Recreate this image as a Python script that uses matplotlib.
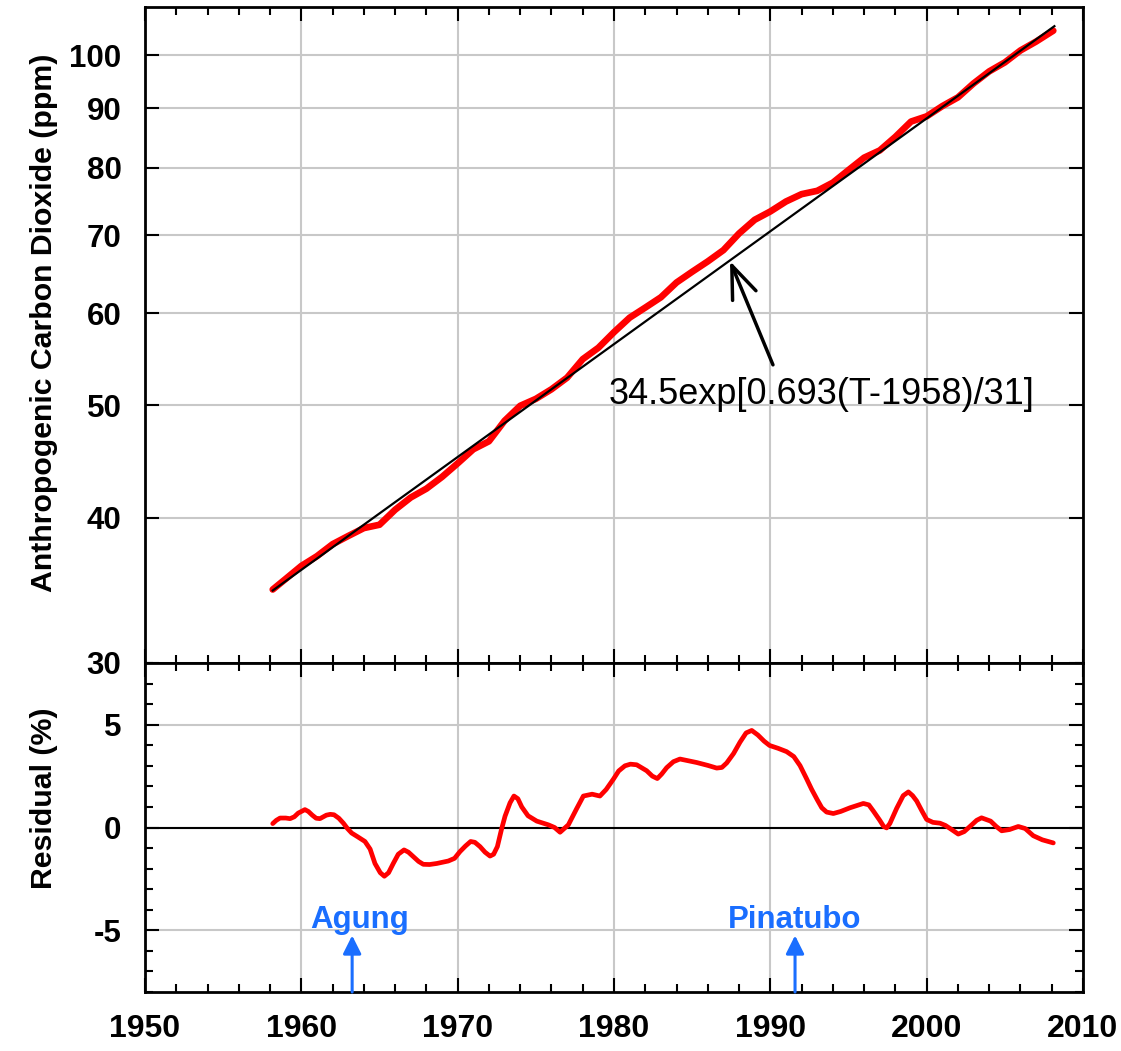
import matplotlib
matplotlib.use("Agg")
import matplotlib.pyplot as plt
import numpy as np
from matplotlib.ticker import FixedLocator, MultipleLocator, NullLocator

plt.rcParams['font.family'] = ['Liberation Sans', 'DejaVu Sans']

# ---- data ----
co2_years = [1958.17, 1959, 1960, 1961, 1962, 1963, 1964, 1965, 1966, 1967,
             1968, 1969, 1970, 1971, 1972, 1973, 1974, 1975, 1976, 1977,
             1978, 1979, 1980, 1981, 1982, 1983, 1984, 1985, 1986, 1987,
             1988, 1989, 1990, 1991, 1992, 1993, 1994, 1995, 1996, 1997,
             1998, 1999, 2000, 2001, 2002, 2003, 2004, 2005, 2006, 2007,
             2008, 2008.1]
co2_ppm = [34.70, 35.44, 36.36, 37.07, 37.96, 38.58, 39.19, 39.45, 40.64, 41.64,
           42.37, 43.37, 44.55, 45.81, 46.54, 48.47, 49.93, 50.62, 51.59, 52.79,
           54.76, 56.01, 57.77, 59.45, 60.65, 61.90, 63.74, 65.11, 66.46, 67.96,
           70.24, 72.17, 73.37, 74.83, 75.93, 76.43, 77.68, 79.64, 81.62, 82.80,
           85.06, 87.67, 88.58, 90.39, 91.97, 94.55, 96.83, 98.57, 100.93, 102.72,
           104.76, 104.96]

res_years = [1958.17, 1958.4, 1958.64, 1959.0, 1959.28, 1959.55, 1959.8, 1960.23, 1960.45,
             1960.7, 1960.95, 1961.19, 1961.4, 1961.6, 1961.85, 1962.09, 1962.4,
             1962.69, 1962.95, 1963.22, 1963.6, 1964.07, 1964.4, 1964.71, 1965.05,
             1965.31, 1965.58, 1965.88, 1966.2, 1966.57, 1966.85, 1967.17, 1967.5,
             1967.8, 1968.2, 1968.66, 1969.40, 1969.8, 1970.15, 1970.5, 1970.83,
             1971.1, 1971.43, 1971.75, 1972.07, 1972.3, 1972.54, 1972.8, 1973.03,
             1973.35, 1973.6, 1973.85, 1974.1, 1974.5, 1975.06, 1975.80, 1976.2,
             1976.55, 1977.08, 1977.6, 1978.04, 1978.6, 1979.10, 1979.5, 1979.96,
             1980.3, 1980.7, 1981.05, 1981.45, 1982.09, 1982.45, 1982.77, 1983.05,
             1983.37, 1983.8, 1984.22, 1985.29, 1986.0, 1986.57, 1986.9, 1987.21,
             1987.65, 1988.06, 1988.45, 1988.81, 1989.2, 1989.6, 1989.95, 1990.5,
             1991.04, 1991.5, 1991.90, 1992.3, 1992.64, 1993.0, 1993.29, 1993.6,
             1994.03, 1994.5, 1995.10, 1995.95, 1996.3, 1996.59, 1997.0, 1997.25,
             1997.44, 1997.65, 1998.08, 1998.5, 1998.83, 1999.1, 1999.36, 1999.7,
             2000.0, 2000.4, 2000.85, 2001.2, 2001.5, 2002.02, 2002.4, 2002.77,
             2003.2, 2003.51, 2004.09, 2004.45, 2004.80, 2005.3, 2005.86, 2006.3,
             2006.82, 2007.4, 2008.10]
res_pct = [0.19, 0.35, 0.46, 0.46, 0.43, 0.52, 0.70, 0.87, 0.78,
           0.60, 0.45, 0.43, 0.52, 0.60, 0.64, 0.62, 0.45,
           0.21, -0.05, -0.27, -0.45, -0.68, -1.05, -1.75, -2.20,
           -2.37, -2.20, -1.75, -1.30, -1.09, -1.20, -1.42, -1.65,
           -1.79, -1.80, -1.75, -1.63, -1.50, -1.17, -0.90, -0.68,
           -0.72, -0.93, -1.20, -1.39, -1.30, -0.93, -0.10, 0.55,
           1.20, 1.53, 1.40, 1.00, 0.57, 0.31, 0.13, 0.00,
           -0.23, 0.13, 0.90, 1.53, 1.62, 1.53, 1.85, 2.35,
           2.75, 3.00, 3.08, 3.05, 2.76, 2.50, 2.38, 2.60,
           2.91, 3.20, 3.33, 3.16, 3.02, 2.89, 2.92, 3.14,
           3.60, 4.15, 4.60, 4.72, 4.50, 4.20, 3.99, 3.85,
           3.69, 3.45, 3.01, 2.40, 1.86, 1.35, 0.96, 0.75,
           0.68, 0.78, 0.96, 1.17, 1.10, 0.80, 0.35, 0.05,
           -0.02, 0.20, 0.93, 1.55, 1.73, 1.55, 1.29, 0.80,
           0.39, 0.25, 0.21, 0.10, -0.05, -0.32, -0.20, 0.05,
           0.35, 0.47, 0.31, 0.05, -0.16, -0.10, 0.05, -0.05,
           -0.40, -0.60, -0.75]

# fit shown in the annotation: 34.5 exp[0.693 (T-1958)/31]
fit_a, fit_t0, fit_tau = 34.5, 1958, 31
fit_years = np.array([1958.17, 2008.17])
fit_vals = fit_a * np.exp(0.693 * (fit_years - fit_t0) / fit_tau)

co2_ticks = [30, 40, 50, 60, 70, 80, 90, 100]
res_ticks = [-5, 0, 5]
year_ticks = [1950, 1960, 1970, 1980, 1990, 2000, 2010]
volcanoes = ["Agung", "Pinatubo"]
volcano_years = [1963.25, 1991.58]
volcano_text_x = [1963.75, 1991.55]

# ---- figure ----
W, H = 1121, 1051
fig = plt.figure(figsize=(W / 100, H / 100), dpi=100)
L, R = 145 / W, 1083 / W
ax1 = fig.add_axes([L, 1 - 663 / H, R - L, (663 - 7) / H])
ax2 = fig.add_axes([L, 1 - 992 / H, R - L, (992 - 663) / H])

grid_c = '#c8c8c8'
fam = ['Liberation Sans', 'DejaVu Sans']
ytick_font = dict(family=fam, weight='bold', size=22.5)
xtick_font = dict(family=fam, weight='bold', size=23)

for ax in (ax1, ax2):
    ax.set_xlim(1950, 2010)
    ax.xaxis.set_major_locator(FixedLocator(year_ticks))
    ax.xaxis.set_minor_locator(MultipleLocator(2))
    ax.grid(True, which='major', color=grid_c, lw=1.5, zorder=0)
    ax.tick_params(which='both', direction='in', top=True, right=True, width=1.5,
                   colors='black')
    ax.tick_params(which='major', length=10)
    ax.tick_params(which='minor', length=6)
    ax.tick_params(axis='y', pad=17)
    for sp in ax.spines.values():
        sp.set_linewidth(2)
    ax.set_axisbelow(True)

# top panel
ax1.set_yscale('log')
ax1.set_ylim(30, 110)
ax1.yaxis.set_major_locator(FixedLocator(co2_ticks))
ax1.yaxis.set_minor_locator(NullLocator())
ax1.set_yticklabels([str(t) for t in co2_ticks], fontdict=ytick_font)
ax1.tick_params(axis='x', labelbottom=False)
ax1.plot(co2_years, co2_ppm, color='#ff0000', lw=4.8, solid_capstyle='round',
         solid_joinstyle='round', zorder=3)
ax1.plot(fit_years, fit_vals, color='black', lw=1.6, zorder=4)
ax1.annotate("34.5exp[0.693(T-1958)/31]", xy=(1987.42, 66.5), xytext=(1979.68, 50.1),
             fontsize=26, family=fam, ha='left', va='baseline',
             arrowprops=dict(arrowstyle='->,head_length=0.9,head_width=0.35', lw=2.5,
                             color='black', shrinkA=0, shrinkB=0,
                             relpos=(0.385, 1.35)),
             zorder=5)

# bottom panel
ax2.set_ylim(-8, 8)
ax2.yaxis.set_major_locator(FixedLocator(res_ticks))
ax2.yaxis.set_minor_locator(MultipleLocator(1))
ax2.set_yticklabels([str(t) for t in res_ticks], fontdict=ytick_font)
ax2.set_xticklabels([str(t) for t in year_ticks], fontdict=xtick_font)
ax2.tick_params(axis='x', pad=16)
ax2.axhline(0, color='black', lw=1.5, zorder=2)
ax2.plot(res_years, res_pct, color='#ff0000', lw=3.4, solid_capstyle='round',
         solid_joinstyle='round', zorder=3)

blue = '#1a6eff'
for name, yr, tx in zip(volcanoes, volcano_years, volcano_text_x):
    ax2.annotate("", xy=(yr, -5.25), xytext=(yr, -8),
                 arrowprops=dict(arrowstyle='-|>,head_length=1.1,head_width=0.55',
                                 lw=2.2, color=blue, shrinkA=0, shrinkB=0))
    ax2.text(tx, -4.9, name, color=blue, fontsize=22.5, weight='bold',
             ha='center', va='baseline', family=fam)

# y-axis labels
lab_font = dict(family=fam, weight='bold', size=21.8)
fig.text(44 / W, 1 - 323 / H, "Anthropogenic Carbon Dioxide (ppm)", rotation=90,
         ha='center', va='center', **lab_font)
fig.text(44 / W, 1 - 798 / H, "Residual (%)", rotation=90,
         ha='center', va='center', **lab_font)

fig.savefig("out.png", dpi=100)
